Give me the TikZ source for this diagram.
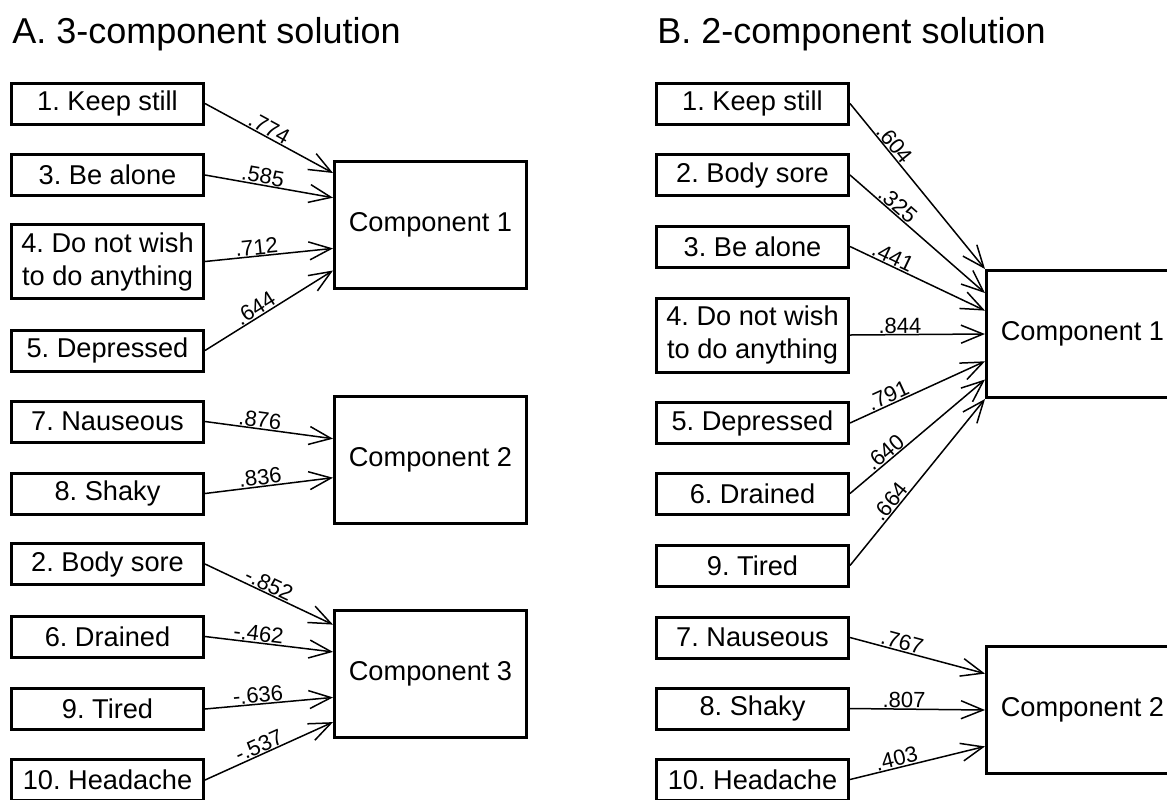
\documentclass[tikz,border=0pt]{standalone}
\usepackage{fontspec}
\setmainfont{Liberation Sans}
\usetikzlibrary{calc,
	arrows.meta}
\frenchspacing
\tikzstyle{it}=[draw, line width=1.5pt, minimum width=96pt, minimum height=20.5pt,
		inner sep=0, align=center, font=\fontsize{13.6}{16.5}\selectfont]
\tikzstyle{cp}=[draw, line width=1.5pt, minimum width=96pt, minimum height=63.5pt,
		inner sep=0, font=\fontsize{13.6}{16.5}\selectfont]
\tikzstyle{ld}=[font=\fontsize{11}{12}\selectfont, inner sep=0.3pt, sloped, above]
\tikzstyle{ar}=[line width=0.75pt, -{Straight Barb[length=11pt,width=9pt]}]
\tikzstyle{ttl}=[anchor=base west, inner sep=0, font=\fontsize{18}{21}\selectfont]

\begin{document}
\begin{tikzpicture}[x=0.5pt,y=-0.5pt]
            \useasboundingbox (0,0) rectangle (1167,799);
            \clip (0,0) rectangle (1167,799);
            \node[ttl] (ta) at (12,43) {A. 3-component solution};
            \node[ttl] (tb) at (657,43) {B. 2-component solution};

            \node[it] (a1) at (107.5,103.5) {1. Keep still};
            \node[it] (a3) at (107.5,175) {3. Be alone};
            \node[it, minimum height=37pt] (a4) at (107.5,261.5) {4. Do not wish\\to do anything};
            \node[it] (a5) at (107.5,350.5) {5. Depressed};
            \node[it] (a7) at (107.5,421.5) {7. Nauseous};
            \node[it] (a8) at (107.5,493.5) {8. Shaky};
            \node[it] (a2) at (107.5,564) {2. Body sore};
            \node[it] (a6) at (107.5,636.5) {6. Drained};
            \node[it] (a9) at (107.5,709) {9. Tired};
            \node[it] (a10) at (107.5,780) {10. Headache};
            \node[cp] (ca1) at (430.5,225) {Component 1};
            \node[cp] (ca2) at (430.5,459.5) {Component 2};
            \node[cp] (ca3) at (430.5,674) {Component 3};

            \draw[ar] (a1.east) -- ($(ca1.north west)!0.1!(ca1.south west)$) node[ld, pos=0.47] {.774};
            \draw[ar] (a3.east) -- ($(ca1.north west)!0.29!(ca1.south west)$) node[ld, pos=0.44] {.585};
            \draw[ar] (a4.east) -- ($(ca1.north west)!0.68!(ca1.south west)$) node[ld, pos=0.41] {.712};
            \draw[ar] (a5.east) -- ($(ca1.north west)!0.85!(ca1.south west)$) node[ld, pos=0.43] {.644};
            \draw[ar] (a7.east) -- ($(ca2.north west)!0.34!(ca2.south west)$) node[ld, pos=0.42] {.876};
            \draw[ar] (a8.east) -- ($(ca2.north west)!0.64!(ca2.south west)$) node[ld, pos=0.44] {.836};
            \draw[ar] (a2.east) -- ($(ca3.north west)!0.12!(ca3.south west)$) node[ld, pos=0.47] {-.852};
            \draw[ar] (a6.east) -- ($(ca3.north west)!0.33!(ca3.south west)$) node[ld, pos=0.41] {-.462};
            \draw[ar] (a9.east) -- ($(ca3.north west)!0.68!(ca3.south west)$) node[ld, pos=0.42] {-.636};
            \draw[ar] (a10.east) -- ($(ca3.north west)!0.87!(ca3.south west)$) node[ld, pos=0.45] {-.537};

            \node[it] (b1) at (752.5,103.5) {1. Keep still};
            \node[it] (b2) at (752.5,175) {2. Body sore};
            \node[it] (b3) at (752.5,246.5) {3. Be alone};
            \node[it, minimum height=37pt] (b4) at (752.5,335) {4. Do not wish\\to do anything};
            \node[it] (b5) at (752.5,423) {5. Depressed};
            \node[it] (b6) at (752.5,493.5) {6. Drained};
            \node[it] (b9) at (752.5,565.5) {9. Tired};
            \node[it] (b7) at (752.5,637.5) {7. Nauseous};
            \node[it] (b8) at (752.5,708.5) {8. Shaky};
            \node[it] (b10) at (752.5,779.5) {10. Headache};
            \node[cp] (cb1) at (1082.5,334) {Component 1};
            \node[cp] (cb2) at (1082.5,710) {Component 2};

            \draw[ar] (b1.east) -- (cb1.north west) node[ld, pos=0.28] {.604};
            \draw[ar] (b2.east) -- ($(cb1.north west)!0.185!(cb1.south west)$) node[ld, pos=0.31] {.325};
            \draw[ar] (b3.east) -- ($(cb1.north west)!0.32!(cb1.south west)$) node[ld, pos=0.29] {.441};
            \draw[ar] (b4.east) -- (cb1.west) node[ld, pos=0.37] {.844};
            \draw[ar] (b5.east) -- ($(cb1.north west)!0.71!(cb1.south west)$) node[ld, pos=0.31] {.791};
            \draw[ar] (b6.east) -- ($(cb1.north west)!0.85!(cb1.south west)$) node[ld, pos=0.3] {.640};
            \draw[ar] (b9.east) -- (cb1.south west) node[ld, pos=0.35] {.664};
            \draw[ar] (b7.east) -- ($(cb2.north west)!0.22!(cb2.south west)$) node[ld, pos=0.37] {.767};
            \draw[ar] (b8.east) -- (cb2.west) node[ld, pos=0.4] {.807};
            \draw[ar] (b10.east) -- ($(cb2.north west)!0.78!(cb2.south west)$) node[ld, pos=0.36] {.403};
        \end{tikzpicture}
\end{document}
